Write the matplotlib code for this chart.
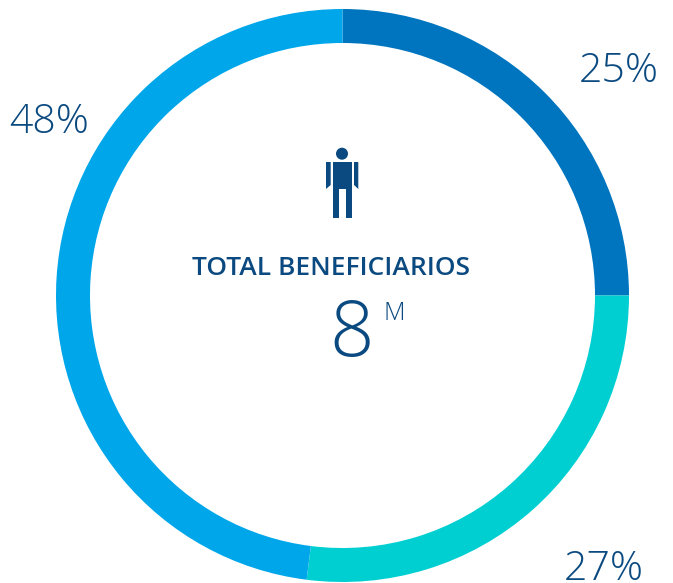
from matplotlib import pyplot as plt
from matplotlib.patches import Rectangle, Circle, Polygon

shares = [25, 27, 48]
labels = ["25%", "27%", "48%"]
colors = ["#0075BF", "#00CFD2", "#00A6EA"]
center_title = "TOTAL BENEFICIARIOS"
center_value = "8"
center_unit = "M"

W, H = 673, 583
navy = "#0B4A80"
plt.rcParams['font.family'] = ['Open Sans', 'DejaVu Sans']

fig = plt.figure(figsize=(W / 100, H / 100), dpi=100)

# pixel coords for the annotations, y going down like the picture
bg = fig.add_axes([0, 0, 1, 1])
bg.set_xlim(0, W)
bg.set_ylim(H, 0)
bg.axis('off')

# donut, outer radius 286px centred on (342,295)
cx, cy, r = 342.5, 295.5, 286.5
ax = fig.add_axes([(cx - r) / W, 1 - (cy + r) / H, 2 * r / W, 2 * r / H])
ax.pie(shares, colors=colors, startangle=90, counterclock=False, radius=1,
       wedgeprops=dict(width=34 / r, linewidth=0))
ax.set_xlim(-1, 1)
ax.set_ylim(-1, 1)

bg.text(619, 82, labels[0], color=navy, fontsize=29.5, ha='center', va='baseline', fontweight='light')
bg.text(604, 580, labels[1], color=navy, fontsize=29.5, ha='center', va='baseline', fontweight='light')
bg.text(49, 133, labels[2], color=navy, fontsize=29.5, ha='center', va='baseline', fontweight='light')

bg.text(331, 275, center_title, color=navy, fontsize=19, ha='center', va='baseline', fontweight='semibold')
bg.text(352, 356, center_value, color=navy, fontsize=56, ha='center', va='baseline', fontweight='light')
bg.text(394, 320, center_unit, color=navy, fontsize=18, ha='center', va='baseline', fontweight='light')

# person icon
bg.add_patch(Circle((342, 153.7), 6, color=navy, lw=0))
bg.add_patch(Rectangle((333.3, 162), 18.4, 27, color=navy, lw=0))
bg.add_patch(Rectangle((333.3, 189), 6, 29, color=navy, lw=0))
bg.add_patch(Rectangle((345.7, 189), 6, 29, color=navy, lw=0))
bg.add_patch(Polygon([(326, 162), (330.7, 162), (330.7, 185), (326, 189)], color=navy, lw=0))
bg.add_patch(Polygon([(354, 162), (358.3, 162), (358.3, 189), (354, 185)], color=navy, lw=0))

fig.savefig('out.png', dpi=100)
